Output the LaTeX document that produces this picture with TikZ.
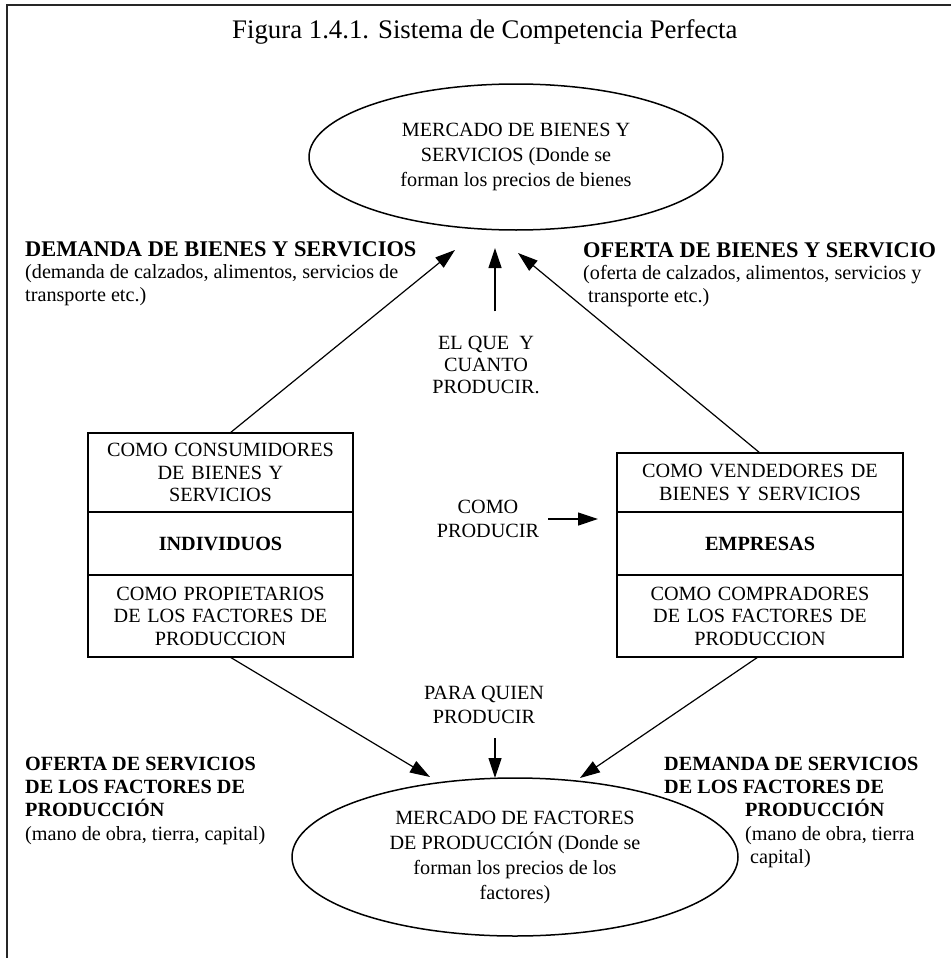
\documentclass[tikz,border=0pt]{standalone}
\usepackage{fontspec}
\setmainfont{Liberation Serif}
\usetikzlibrary{arrows.meta}
\usetikzlibrary{positioning}
\usetikzlibrary{shapes.geometric}
\newcommand\letra[2]{\fontsize{#1pt}{#2pt}\selectfont}

\begin{document}
\begin{tikzpicture}[x=1pt,y=-1pt,
 celda/.style={draw,line width=1.3pt,outer sep=0pt,inner sep=0pt,align=center,font=\letra{20.2}{22.5}},
 mercado/.style={ellipse,draw,line width=1.5pt,inner sep=0pt,align=center,font=\letra{20.2}{25}},
 flecha/.style={line width=1.2pt,-{Triangle[length=20pt,width=13pt]}},
 rotulo/.style={inner sep=0pt,align=left,font=\letra{20.2}{23.3}},
 marco/.style={line width=2.2pt,black!85}]
\useasboundingbox (0,0) rectangle (951,958);
\draw[marco] (951,5.3)--(7,5.3)--(7,958);
\node[anchor=base west,inner sep=0pt,font=\letra{26.8}{30}] (titulo) at (232,38) {Figura 1.4.1. Sistema de Competencia Perfecta};

\node[mercado,minimum width=414pt,minimum height=146pt] (bienes) at (516,157) {MERCADO DE BIENES Y\\SERVICIOS (Donde se\\forman los precios de bienes};
\node[mercado,minimum width=446pt,minimum height=158pt] (factores) at (515,857) {MERCADO DE FACTORES\\DE PRODUCCIÓN (Donde se\\forman los precios de los\\factores)};

\node[celda,text width=265pt,minimum height=79pt] (consum) at (220.5,472.5) {COMO CONSUMIDORES\\DE BIENES Y\\SERVICIOS};
\node[celda,text width=265pt,minimum height=63pt,below=0pt of consum] (indiv) {\textbf{INDIVIDUOS}};
\node[celda,text width=265pt,minimum height=82pt,below=0pt of indiv] (propiet) {COMO PROPIETARIOS\\DE LOS FACTORES DE\\PRODUCCION};
\node[celda,text width=286pt,minimum height=59pt] (vende) at (760,482.5) {COMO VENDEDORES DE\\BIENES Y SERVICIOS};
\node[celda,text width=286pt,minimum height=63pt,below=0pt of vende] (empresas) {\textbf{EMPRESAS}};
\node[celda,text width=286pt,minimum height=82pt,below=0pt of empresas] (compra) {COMO COMPRADORES\\DE LOS FACTORES DE\\PRODUCCION};

\node[rotulo,anchor=base west,font=\letra{22.4}{23}\bfseries] (demB) at (25,256) {DEMANDA DE BIENES Y SERVICIOS};
\node[rotulo,below=8pt of demB.base west,anchor=north west] (demBx) {(demanda de calzados, alimentos, servicios de\\transporte etc.)};
\node[rotulo,anchor=base west,font=\letra{22.4}{23}\bfseries] (ofeB) at (583,257) {OFERTA DE BIENES Y SERVICIO};
\node[rotulo,below=8pt of ofeB.base west,anchor=north west] (ofeBx) {(oferta de calzados, alimentos, servicios y\\\hspace*{5pt}transporte etc.)};
\node[rotulo,align=center,font=\letra{20.2}{22}] (elque) at (486,365) {EL QUE~ Y\\CUANTO\\PRODUCIR.};
\node[rotulo,align=center] (comoP) at (488,519) {COMO\\PRODUCIR};
\node[rotulo,align=center,font=\letra{20.2}{24}] (paraQ) at (484,705.3) {PARA QUIEN\\PRODUCIR};
\node[rotulo,anchor=north west] (ofeS) at (25,756.6) {\textbf{OFERTA DE SERVICIOS}\\\textbf{DE LOS FACTORES DE}\\\textbf{PRODUCCIÓN}\\(mano de obra, tierra, capital)};
\node[rotulo,anchor=north west] (demS) at (664,756.6) {\textbf{DEMANDA DE SERVICIOS}\\\textbf{DE LOS FACTORES DE}\\\hspace*{81pt}\textbf{PRODUCCIÓN}\\\hspace*{81pt}(mano de obra, tierra\\\hspace*{86pt}capital)};

\coordinate (pDB) at (455,250);
\coordinate (pOB) at (518,253);
\coordinate (pQ) at (495,248);
\coordinate (pOS) at (430,777);
\coordinate (pDS) at (580,778);
\coordinate (pPQ) at (495,778);
\draw[flecha] ([xshift=9.5pt]consum.north) -- (pDB);
\draw[flecha] (vende.north) -- (pOB);
\draw[flecha] ([xshift=9pt,yshift=24.6pt]elque.north) -- (pQ);
\draw[flecha,shorten >=19pt] ([xshift=9pt]comoP.east) -- (comoP.east -| empresas.west);
\draw[flecha] ([xshift=9.5pt]propiet.south) -- (pOS);
\draw[flecha] ([xshift=-2pt]compra.south) -- (pDS);
\draw[flecha] ([xshift=11pt,yshift=-14pt]paraQ.south) -- (pPQ);
\end{tikzpicture}
\end{document}
